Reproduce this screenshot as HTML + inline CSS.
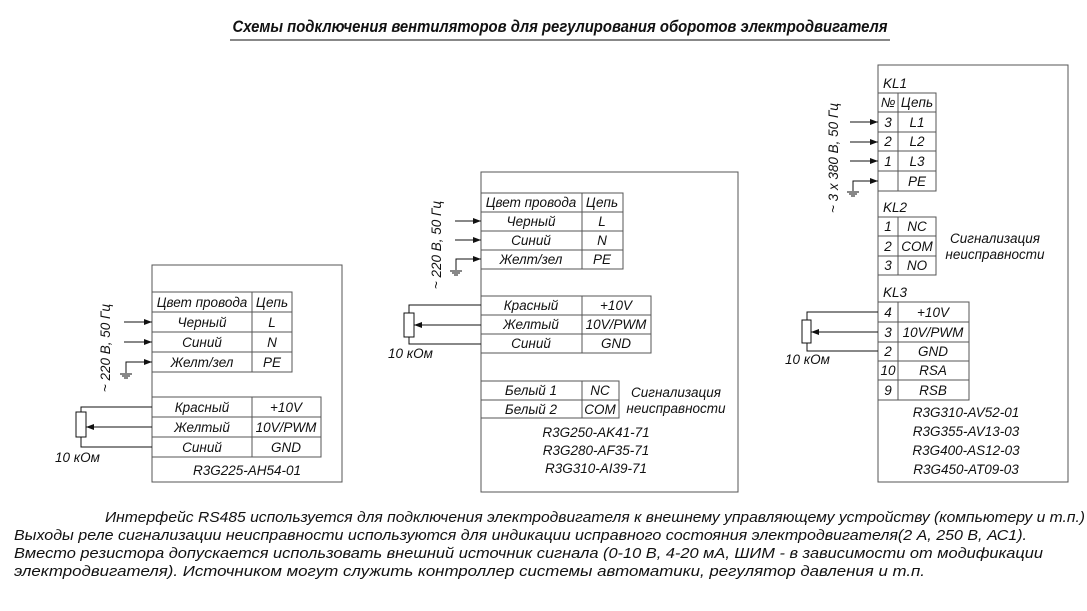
<!DOCTYPE html>
<html><head><meta charset="utf-8"><style>
html,body{margin:0;padding:0;background:#fff;}
svg{display:block;}
text{font-family:"Liberation Sans","DejaVu Sans",sans-serif;font-style:italic;fill:#111;}
.t{font-size:13.5px;}
.f{font-size:15px;font-family:"Liberation Sans Narrow","Liberation Sans",sans-serif;}
</style></head><body>
<svg width="1087" height="611" viewBox="0 0 1087 611" xmlns="http://www.w3.org/2000/svg">
<defs><marker id="a" markerWidth="8" markerHeight="6" refX="8" refY="3" orient="auto" markerUnits="userSpaceOnUse"><path d="M0,0 L8,3 L0,6 z" fill="#111"/></marker></defs>
<g stroke="#555" stroke-width="1" fill="none">
<rect x="152" y="265" width="190" height="217"/>
<rect x="152" y="292" width="140" height="80"/>
<line x1="252" y1="292" x2="252" y2="372"/>
<line x1="152" y1="312" x2="292" y2="312"/><line x1="152" y1="332" x2="292" y2="332"/><line x1="152" y1="352" x2="292" y2="352"/>
<rect x="152" y="397" width="169" height="60"/>
<line x1="252" y1="397" x2="252" y2="457"/>
<line x1="152" y1="417" x2="321" y2="417"/><line x1="152" y1="437" x2="321" y2="437"/>
<rect x="481" y="172" width="257" height="320"/>
<rect x="481" y="193" width="142" height="76"/>
<line x1="582" y1="193" x2="582" y2="269"/>
<line x1="481" y1="212" x2="623" y2="212"/><line x1="481" y1="231" x2="623" y2="231"/><line x1="481" y1="250" x2="623" y2="250"/>
<rect x="481" y="296" width="170" height="57"/>
<line x1="582" y1="296" x2="582" y2="353"/>
<line x1="481" y1="315" x2="651" y2="315"/><line x1="481" y1="334" x2="651" y2="334"/>
<rect x="481" y="381" width="138" height="37"/>
<line x1="582" y1="381" x2="582" y2="418"/><line x1="481" y1="400" x2="619" y2="400"/>
<rect x="878" y="65" width="190" height="417"/>
<rect x="878" y="93" width="58" height="98"/>
<line x1="898" y1="93" x2="898" y2="191"/>
<line x1="878" y1="112" x2="936" y2="112"/><line x1="878" y1="132" x2="936" y2="132"/><line x1="878" y1="151" x2="936" y2="151"/><line x1="878" y1="171" x2="936" y2="171"/>
<rect x="878" y="217" width="58" height="58"/>
<line x1="898" y1="217" x2="898" y2="275"/>
<line x1="878" y1="236" x2="936" y2="236"/><line x1="878" y1="256" x2="936" y2="256"/>
<rect x="878" y="302" width="91" height="98"/>
<line x1="898" y1="302" x2="898" y2="400"/>
<line x1="878" y1="322" x2="969" y2="322"/><line x1="878" y1="342" x2="969" y2="342"/><line x1="878" y1="361" x2="969" y2="361"/><line x1="878" y1="380" x2="969" y2="380"/>
</g>
<g stroke="#111" stroke-width="1" fill="none">
<line x1="124" y1="322" x2="152" y2="322" marker-end="url(#a)"/>
<line x1="124" y1="342" x2="152" y2="342" marker-end="url(#a)"/>
<polyline points="126,373 126,362 152,362" marker-end="url(#a)"/>
<line x1="120" y1="374" x2="132" y2="374"/><line x1="122" y1="376" x2="130" y2="376"/><line x1="124" y1="378" x2="128" y2="378"/>
<polyline points="152,407 81,407 81,412"/><rect x="76" y="412" width="10" height="25"/>
<polyline points="81,437 81,447 152,447"/>
<line x1="152" y1="427" x2="86" y2="427" marker-end="url(#a)"/>
<line x1="455" y1="221" x2="481" y2="221" marker-end="url(#a)"/>
<line x1="455" y1="240" x2="481" y2="240" marker-end="url(#a)"/>
<polyline points="456,270 456,259 481,259" marker-end="url(#a)"/>
<line x1="450" y1="271" x2="462" y2="271"/><line x1="452" y1="273" x2="460" y2="273"/><line x1="454" y1="275" x2="458" y2="275"/>
<polyline points="481,305 409,305 409,313"/><rect x="404" y="313" width="10" height="24"/>
<polyline points="409,337 409,344 481,344"/>
<line x1="481" y1="325" x2="414" y2="325" marker-end="url(#a)"/>
<line x1="850" y1="122" x2="878" y2="122" marker-end="url(#a)"/>
<line x1="850" y1="142" x2="878" y2="142" marker-end="url(#a)"/>
<line x1="850" y1="161" x2="878" y2="161" marker-end="url(#a)"/>
<polyline points="853,191 853,181 878,181" marker-end="url(#a)"/>
<line x1="847" y1="192" x2="859" y2="192"/><line x1="849" y1="194" x2="857" y2="194"/><line x1="851" y1="196" x2="855" y2="196"/>
<polyline points="878,312 807,312 807,320"/><rect x="802" y="320" width="9" height="23"/>
<polyline points="807,343 807,351 878,351"/>
<line x1="878" y1="332" x2="811" y2="332" marker-end="url(#a)"/>
<line x1="230" y1="40" x2="890" y2="40"/>
</g>
<text x="560" y="32" text-anchor="middle" font-weight="bold" font-size="17" textLength="655" lengthAdjust="spacingAndGlyphs" style="font-family:'Liberation Sans Narrow','Liberation Sans',sans-serif">Схемы подключения вентиляторов для регулирования оборотов электродвигателя</text>
<g class="t">
<text x="202" y="307" text-anchor="middle">Цвет провода</text><text x="272" y="307" text-anchor="middle">Цепь</text>
<text x="202" y="327" text-anchor="middle">Черный</text><text x="272" y="327" text-anchor="middle">L</text>
<text x="202" y="347" text-anchor="middle">Синий</text><text x="272" y="347" text-anchor="middle">N</text>
<text x="202" y="367" text-anchor="middle">Желт/зел</text><text x="272" y="367" text-anchor="middle">PE</text>
<text x="202" y="412" text-anchor="middle">Красный</text><text x="286" y="412" text-anchor="middle">+10V</text>
<text x="202" y="432" text-anchor="middle">Желтый</text><text x="286" y="432" text-anchor="middle">10V/PWM</text>
<text x="202" y="452" text-anchor="middle">Синий</text><text x="286" y="452" text-anchor="middle">GND</text>
<text x="247" y="475" text-anchor="middle">R3G225-AH54-01</text>
<text x="55" y="462">10 кОм</text>
<text transform="translate(110,348) rotate(-90)" text-anchor="middle">~ 220 В, 50 Гц</text>
<text x="531" y="207" text-anchor="middle">Цвет провода</text><text x="602" y="207" text-anchor="middle">Цепь</text>
<text x="531" y="226" text-anchor="middle">Черный</text><text x="602" y="226" text-anchor="middle">L</text>
<text x="531" y="245" text-anchor="middle">Синий</text><text x="602" y="245" text-anchor="middle">N</text>
<text x="531" y="264" text-anchor="middle">Желт/зел</text><text x="602" y="264" text-anchor="middle">PE</text>
<text x="531" y="310" text-anchor="middle">Красный</text><text x="616" y="310" text-anchor="middle">+10V</text>
<text x="531" y="329" text-anchor="middle">Желтый</text><text x="616" y="329" text-anchor="middle">10V/PWM</text>
<text x="531" y="348" text-anchor="middle">Синий</text><text x="616" y="348" text-anchor="middle">GND</text>
<text x="531" y="395" text-anchor="middle">Белый 1</text><text x="600" y="395" text-anchor="middle">NC</text>
<text x="531" y="414" text-anchor="middle">Белый 2</text><text x="600" y="414" text-anchor="middle">COM</text>
<text x="676" y="397" text-anchor="middle">Сигнализация</text>
<text x="676" y="413" text-anchor="middle">неисправности</text>
<text x="596" y="437" text-anchor="middle">R3G250-AK41-71</text>
<text x="596" y="455" text-anchor="middle">R3G280-AF35-71</text>
<text x="596" y="473" text-anchor="middle">R3G310-AI39-71</text>
<text x="388" y="358">10 кОм</text>
<text transform="translate(441,245) rotate(-90)" text-anchor="middle">~ 220 В, 50 Гц</text>
<text x="883" y="88">KL1</text>
<text x="888" y="107" text-anchor="middle">№</text><text x="917" y="107" text-anchor="middle">Цепь</text>
<text x="888" y="127" text-anchor="middle">3</text><text x="917" y="127" text-anchor="middle">L1</text>
<text x="888" y="146" text-anchor="middle">2</text><text x="917" y="146" text-anchor="middle">L2</text>
<text x="888" y="166" text-anchor="middle">1</text><text x="917" y="166" text-anchor="middle">L3</text>
<text x="917" y="186" text-anchor="middle">PE</text>
<text x="883" y="212">KL2</text>
<text x="888" y="231" text-anchor="middle">1</text><text x="917" y="231" text-anchor="middle">NC</text>
<text x="888" y="251" text-anchor="middle">2</text><text x="917" y="251" text-anchor="middle">COM</text>
<text x="888" y="270" text-anchor="middle">3</text><text x="917" y="270" text-anchor="middle">NO</text>
<text x="995" y="243" text-anchor="middle">Сигнализация</text>
<text x="995" y="259" text-anchor="middle">неисправности</text>
<text x="883" y="297">KL3</text>
<text x="888" y="317" text-anchor="middle">4</text><text x="933" y="317" text-anchor="middle">+10V</text>
<text x="888" y="337" text-anchor="middle">3</text><text x="933" y="337" text-anchor="middle">10V/PWM</text>
<text x="888" y="356" text-anchor="middle">2</text><text x="933" y="356" text-anchor="middle">GND</text>
<text x="888" y="375" text-anchor="middle">10</text><text x="933" y="375" text-anchor="middle">RSA</text>
<text x="888" y="395" text-anchor="middle">9</text><text x="933" y="395" text-anchor="middle">RSB</text>
<text x="966" y="417" text-anchor="middle">R3G310-AV52-01</text>
<text x="966" y="436" text-anchor="middle">R3G355-AV13-03</text>
<text x="966" y="455" text-anchor="middle">R3G400-AS12-03</text>
<text x="966" y="474" text-anchor="middle">R3G450-AT09-03</text>
<text x="785" y="364">10 кОм</text>
<text transform="translate(838,158) rotate(-90)" text-anchor="middle">~ 3 x 380 В, 50 Гц</text>
</g>
<g class="f">
<text x="105" y="522" textLength="980" lengthAdjust="spacingAndGlyphs">Интерфейс RS485 используется для подключения электродвигателя к внешнему управляющему устройству (компьютеру и т.п.)</text>
<text x="14" y="540" textLength="1013" lengthAdjust="spacingAndGlyphs">Выходы реле сигнализации неисправности используются для индикации исправного состояния электродвигателя(2 А, 250 В, АС1).</text>
<text x="14" y="558" textLength="1029" lengthAdjust="spacingAndGlyphs">Вместо резистора допускается использовать внешний источник сигнала (0-10 В, 4-20 мА, ШИМ - в зависимости от модификации</text>
<text x="14" y="576" textLength="911" lengthAdjust="spacingAndGlyphs">электродвигателя). Источником могут служить контроллер системы автоматики, регулятор давления и т.п.</text>
</g>
</svg>
</body></html>
